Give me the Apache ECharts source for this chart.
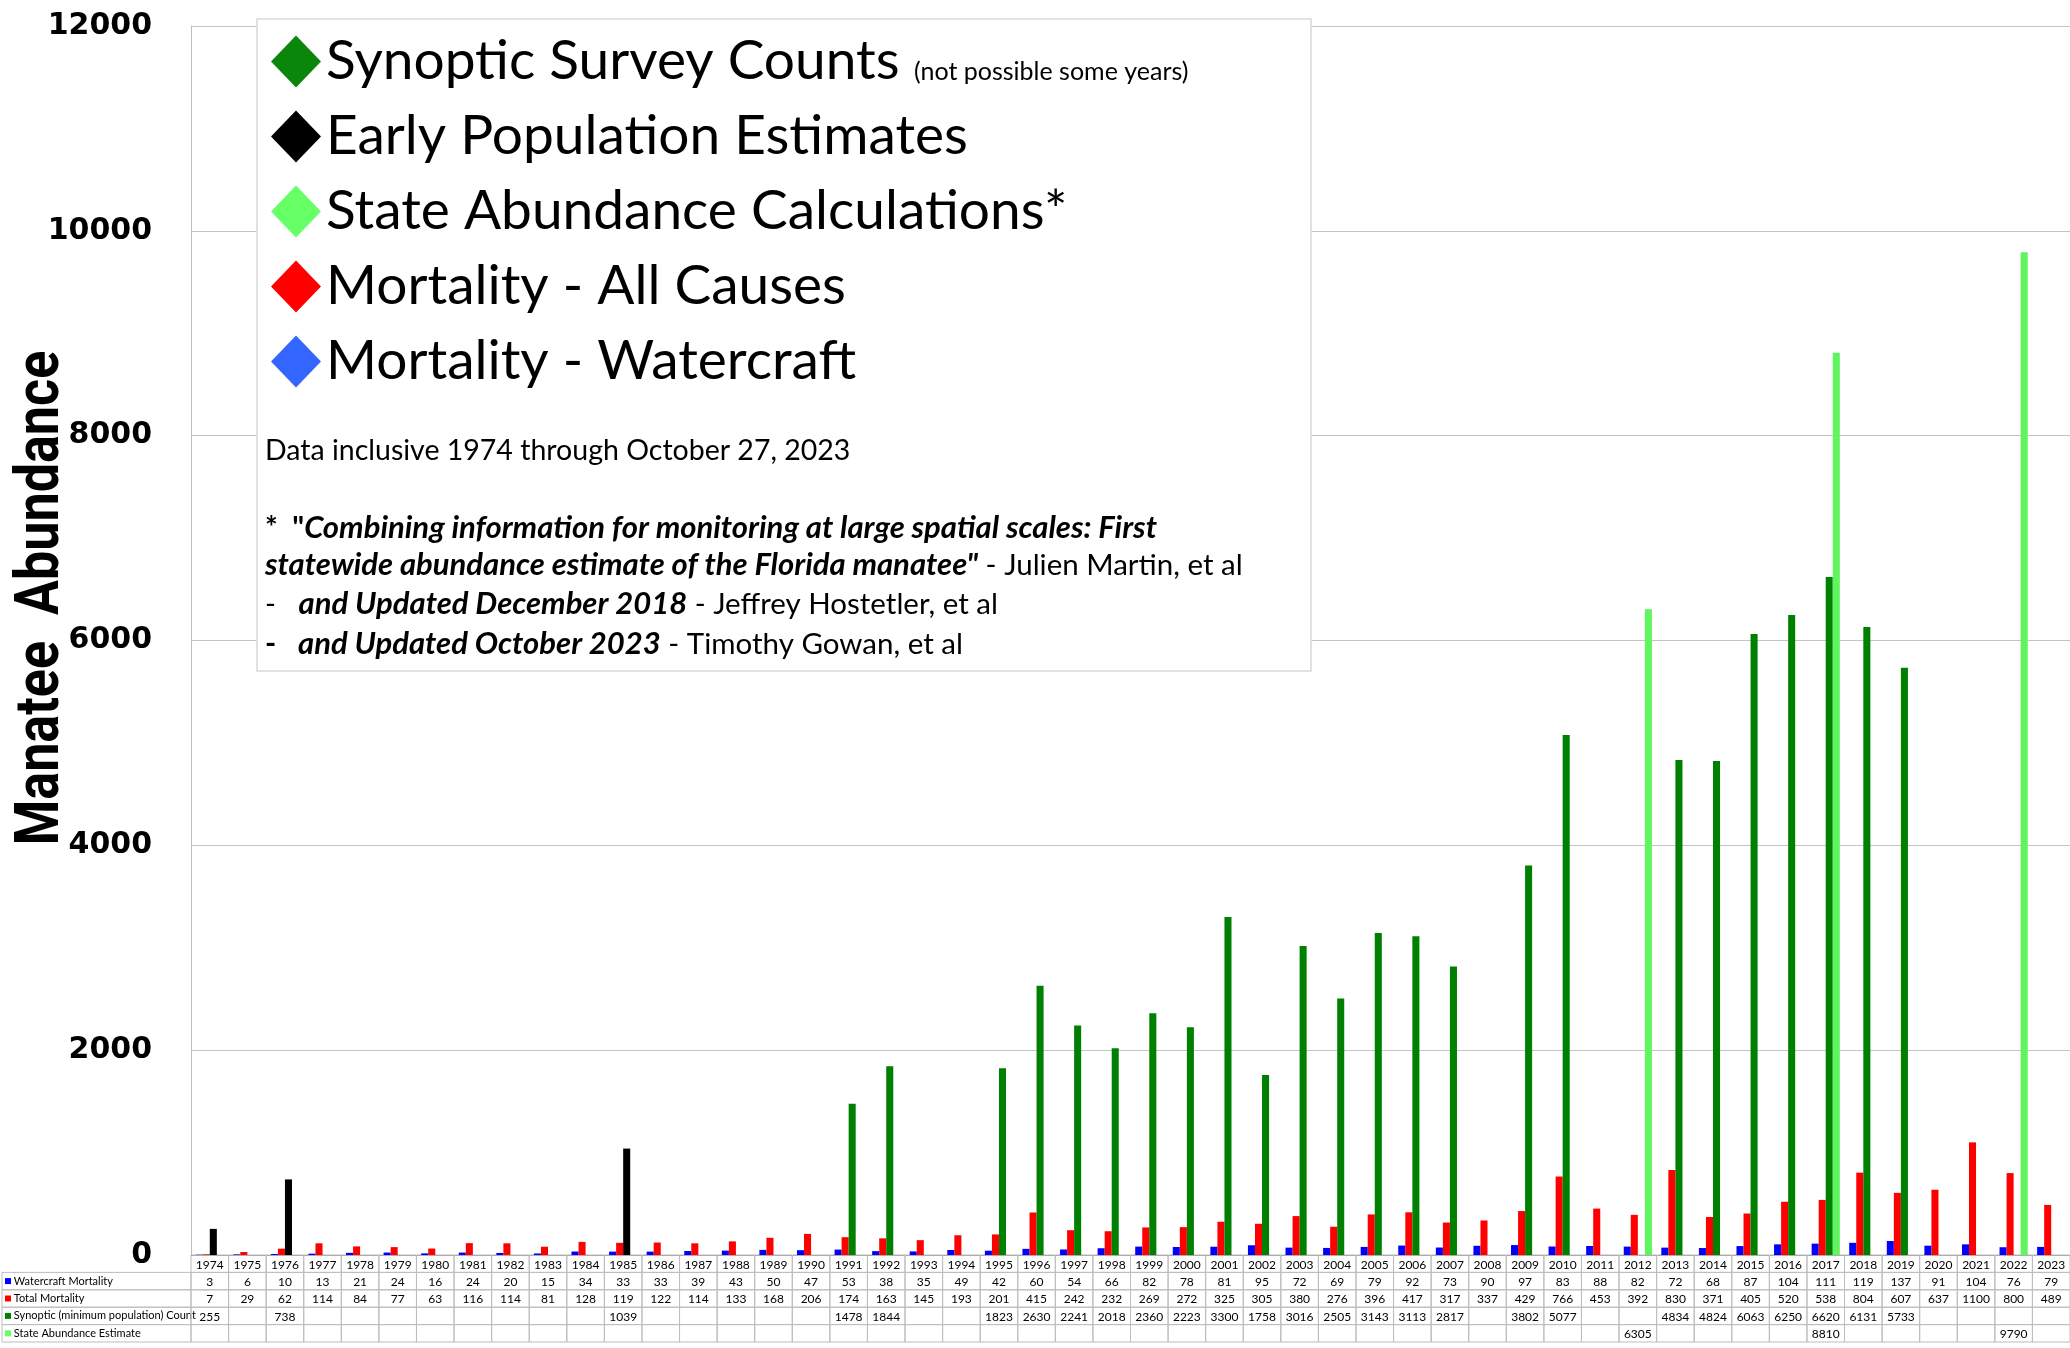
<!DOCTYPE html>
<html>
<head>
<meta charset="utf-8">
<script src="https://cdn.jsdelivr.net/npm/echarts@6/dist/echarts.min.js"></script>
<style>html,body{margin:0;padding:0;background:#fff;}#chart{width:2070px;height:1348px;}</style>
</head>
<body>
<div id="chart"></div>
<script>
const years = ['1974','1975','1976','1977','1978','1979','1980','1981','1982','1983','1984','1985','1986','1987','1988','1989','1990','1991','1992','1993','1994','1995','1996','1997','1998','1999','2000','2001','2002','2003','2004','2005','2006','2007','2008','2009','2010','2011','2012','2013','2014','2015','2016','2017','2018','2019','2020','2021','2022','2023'];
const watercraftMortality = [3,6,10,13,21,24,16,24,20,15,34,33,33,39,43,50,47,53,38,35,49,42,60,54,66,82,78,81,95,72,69,79,92,73,90,97,83,88,82,72,68,87,104,111,119,137,91,104,76,79];
const totalMortality = [7,29,62,114,84,77,63,116,114,81,128,119,122,114,133,168,206,174,163,145,193,201,415,242,232,269,272,325,305,380,276,396,417,317,337,429,766,453,392,830,371,405,520,538,804,607,637,1100,800,489];
const synopticCounts = [null,null,null,null,null,null,null,null,null,null,null,null,null,null,null,null,null,1478,1844,null,null,1823,2630,2241,2018,2360,2223,3300,1758,3016,2505,3143,3113,2817,null,3802,5077,null,null,4834,4824,6063,6250,6620,6131,5733,null,null,null,null];
const earlyEstimates = [255,null,738,null,null,null,null,null,null,null,null,1039,null,null,null,null,null,null,null,null,null,null,null,null,null,null,null,null,null,null,null,null,null,null,null,null,null,null,null,null,null,null,null,null,null,null,null,null,null,null];
const stateAbundance = [null,null,null,null,null,null,null,null,null,null,null,null,null,null,null,null,null,null,null,null,null,null,null,null,null,null,null,null,null,null,null,null,null,null,null,null,null,null,6305,null,null,null,null,8810,null,null,null,null,9790,null];
const yTicks = [0,2000,4000,6000,8000,10000,12000];
const tableRows = ['', 'Watercraft Mortality', 'Total Mortality', 'Synoptic (minimum population) Count', 'State Abundance Estimate'];

const tableData = [];
for (let i = 0; i < years.length; i++) for (let r = 0; r < tableRows.length; r++) tableData.push([i, r]);
function cellText(i, r) {
  let v;
  if (r === 0) v = years[i];
  else if (r === 1) v = watercraftMortality[i];
  else if (r === 2) v = totalMortality[i];
  else if (r === 3) v = synopticCounts[i] != null ? synopticCounts[i] : earlyEstimates[i];
  else v = stateAbundance[i];
  return v == null ? '' : String(v);
}

const chart = echarts.init(document.getElementById('chart'));
const BORDER = '#bdbdbd';
const noteRich = {
  n: { fontFamily: 'Lato', fontSize: 29.5, color: '#000' },
  m: { fontFamily: 'Lato', fontSize: 30, fontWeight: 'bold', color: '#000' },
  b: { fontFamily: 'Lato', fontSize: 31, fontWeight: 'bold', fontStyle: 'italic', color: '#000' }
};
chart.setOption({
  backgroundColor: '#ffffff',
  animation: false,
  grid: [
    { left: 191, right: 0, top: 26, bottom: 93 },
    { left: 191, right: 0, top: 1255, height: 87 }
  ],
  xAxis: [
    { type: 'category', gridIndex: 0, data: years, axisLabel: { show: false }, axisTick: { show: false },
      axisLine: { lineStyle: { color: '#9a9a9a', width: 1 } } },
    { type: 'category', gridIndex: 1, data: years, show: false }
  ],
  yAxis: [
    { type: 'value', gridIndex: 0, min: yTicks[0], max: yTicks[yTicks.length - 1], interval: yTicks[1] - yTicks[0],
      axisLine: { show: true, lineStyle: { color: '#bdbdbd' } }, axisTick: { show: false },
      splitLine: { lineStyle: { color: '#c4c4c4', width: 1.2 } },
      axisLabel: { margin: 39, color: '#000', fontFamily: 'DejaVu Sans', fontWeight: 'bold', fontSize: 30,
        formatter: function (v) { return String(v); } } },
    { type: 'category', gridIndex: 1, data: tableRows, inverse: true,
      axisLine: { show: false }, axisTick: { show: false }, splitLine: { show: false },
      axisLabel: { align: 'left', margin: 186,
        formatter: function (v, idx) { return idx === 0 ? '' : '{s' + idx + '|}{t| ' + v + '}'; },
        rich: {
          s1: { backgroundColor: '#0000ff', width: 6, height: 6 },
          s2: { backgroundColor: '#ff0000', width: 6, height: 6 },
          s3: { backgroundColor: '#008000', width: 6, height: 6 },
          s4: { backgroundColor: '#66ff66', width: 6, height: 6 },
          t: { fontFamily: 'Lato', fontSize: 11, color: '#000' }
        } } }
  ],
  legend: {
    orient: 'vertical', left: 266, top: 29, itemWidth: 50, itemHeight: 52, itemGap: 20,
    icon: 'diamond', selectedMode: false, z: 6,
    textStyle: { fontFamily: 'Lato', fontSize: 55, color: '#000', lineHeight: 55 },
    data: [
      { name: 'Synoptic Survey Counts', itemStyle: { color: '#0a870a' } },
      { name: 'Early Population Estimates', itemStyle: { color: '#000000' } },
      { name: 'State Abundance Calculations*', itemStyle: { color: '#66ff66' } },
      { name: 'Mortality - All Causes', itemStyle: { color: '#ff0000' } },
      { name: 'Mortality - Watercraft', itemStyle: { color: '#3366ff' } }
    ]
  },
  graphic: [
    { type: 'rect', z: 3, shape: { x: 257, y: 19, width: 1054, height: 652 },
      style: { fill: '#ffffff', stroke: '#d9d9d9', lineWidth: 1.5 } },
    { type: 'text', z: 7, x: 914, y: 72, style: { text: '(not possible some years)', font: '25px Lato', fill: '#000', verticalAlign: 'middle' } },
    { type: 'text', z: 7, x: 265, y: 451, style: { text: 'Data inclusive 1974 through October 27, 2023', font: '28.5px Lato', fill: '#000', verticalAlign: 'middle' } },
    { type: 'text', z: 7, x: 265, y: 528, style: { text: '{m|*  "}{b|Combining information for monitoring at large spatial scales: First}', verticalAlign: 'middle', rich: noteRich } },
    { type: 'text', z: 7, x: 265, y: 565, style: { text: '{b|statewide abundance estimate of the Florida manatee"}{n| - Julien Martin, et al}', verticalAlign: 'middle', rich: noteRich } },
    { type: 'text', z: 7, x: 265, y: 604, style: { text: '{n|-   }{b|and Updated December 2018}{n| - Jeffrey Hostetler, et al}', verticalAlign: 'middle', rich: noteRich } },
    { type: 'text', z: 7, x: 265, y: 644, style: { text: '{m|-   }{b|and Updated October 2023}{n| - Timothy Gowan, et al}', verticalAlign: 'middle', rich: noteRich } },
    { type: 'text', z: 7, x: 42, y: 598, rotation: Math.PI / 2, scaleX: 0.84,
      style: { text: 'Manatee  Abundance', font: 'bold 62px Roboto', fill: '#000', align: 'center', verticalAlign: 'middle' } }
  ],
  series: [
    { name: 'Mortality - Watercraft', type: 'bar', xAxisIndex: 0, yAxisIndex: 0, data: watercraftMortality,
      itemStyle: { color: '#0000ff' }, barGap: '0%', barCategoryGap: '25%' },
    { name: 'Mortality - All Causes', type: 'bar', xAxisIndex: 0, yAxisIndex: 0, data: totalMortality,
      itemStyle: { color: '#ff0000' } },
    { name: 'Synoptic Survey Counts', type: 'bar', stack: 'pop', xAxisIndex: 0, yAxisIndex: 0, data: synopticCounts,
      itemStyle: { color: '#008000' } },
    { name: 'Early Population Estimates', type: 'bar', stack: 'pop', xAxisIndex: 0, yAxisIndex: 0, data: earlyEstimates,
      itemStyle: { color: '#000000' } },
    { name: 'State Abundance Calculations*', type: 'bar', xAxisIndex: 0, yAxisIndex: 0, data: stateAbundance,
      itemStyle: { color: '#5ef55e' } },
    { name: 'table', type: 'custom', xAxisIndex: 1, yAxisIndex: 1, data: tableData, encode: { x: 0, y: 1 },
      silent: true, clip: false,
      renderItem: function (params, api) {
        const i = api.value(0), r = api.value(1);
        const c = api.coord([i, r]);
        const s = api.size([1, 1]);
        const x0 = c[0] - s[0] / 2, y0 = c[1] - s[1] / 2;
        const children = [
          { type: 'rect', shape: { x: x0, y: y0, width: s[0], height: s[1] },
            style: { fill: 'none', stroke: BORDER, lineWidth: 1 } },
          { type: 'text', style: { text: cellText(i, r), x: c[0], y: c[1] + 1, align: 'center', verticalAlign: 'middle',
            font: '12px Lato', fill: '#000' } }
        ];
        if (i === 0 && r >= 1) {
          children.push({ type: 'rect', shape: { x: 2, y: y0, width: x0 - 2, height: s[1] },
            style: { fill: 'none', stroke: BORDER, lineWidth: 1 } });
        }
        return { type: 'group', children: children };
      } }
  ]
});
</script>
</body>
</html>
